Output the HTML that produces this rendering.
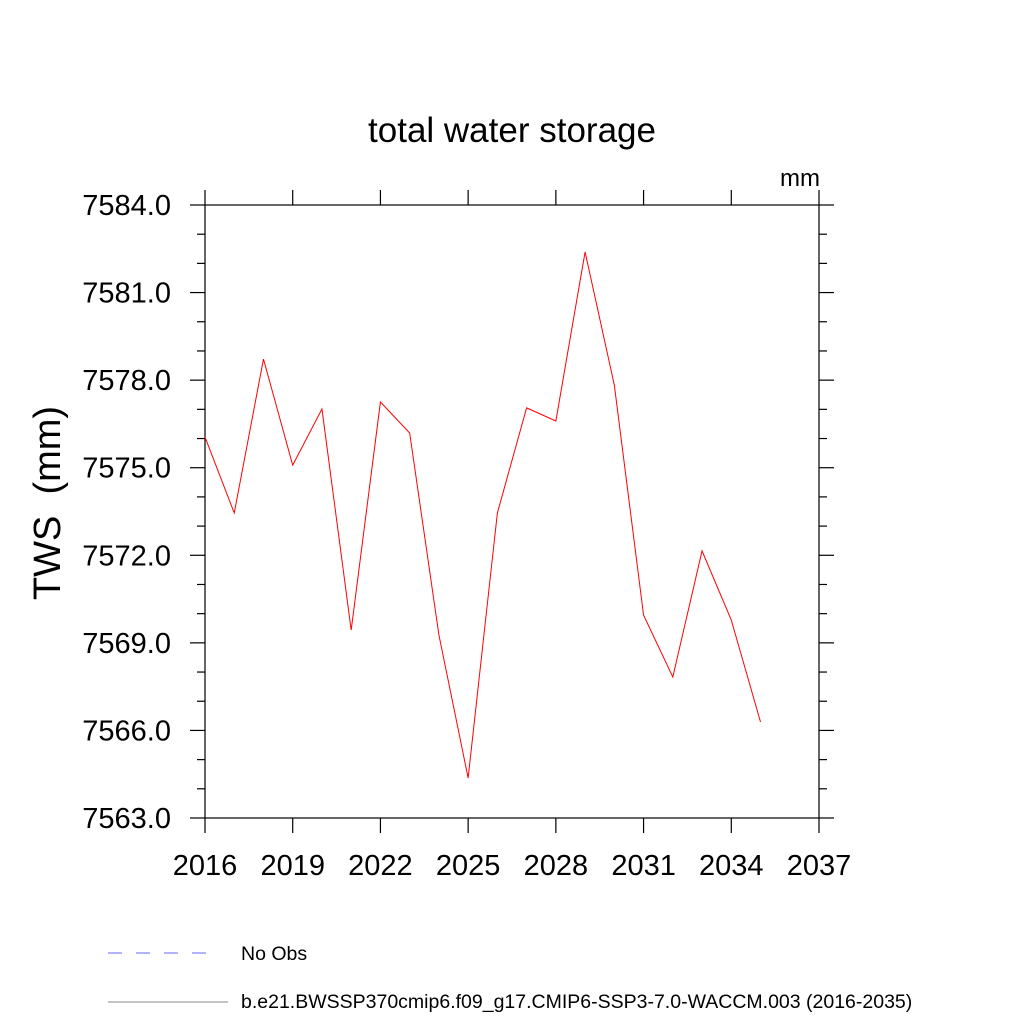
<!DOCTYPE html>
<html><head><meta charset="utf-8"><style>body{margin:0;background:#fff}</style></head>
<body>
<svg id="chart" width="1024" height="1024" xmlns="http://www.w3.org/2000/svg" font-family="Liberation Sans, sans-serif">
<rect width="1024" height="1024" fill="#fff"/>
<text x="512" y="142" font-size="35" text-anchor="middle">total water storage</text>
<text x="800" y="186" font-size="24" text-anchor="middle">mm</text>
<text transform="translate(60,503) rotate(-90)" font-size="38" text-anchor="middle">TWS&#160;&#160;(mm)</text>
<rect x="205" y="205" width="614" height="613" fill="none" stroke="#000" stroke-width="1.2"/>
<g id="ticks"></g>
<polyline id="series" fill="none" stroke="#ff0000" stroke-width="1"/>
<line x1="108" y1="953" x2="218" y2="953" stroke="#6666ff" stroke-width="1" stroke-dasharray="14,14"/>
<text x="241" y="960" font-size="19.5">No Obs</text>
<line x1="108" y1="1002" x2="228" y2="1002" stroke="#888" stroke-width="1"/>
<text x="241" y="1008" font-size="19.5">b.e21.BWSSP370cmip6.f09_g17.CMIP6-SSP3-7.0-WACCM.003 (2016-2035)</text>
</svg>
<script>
const years=[2016,2017,2018,2019,2020,2021,2022,2023,2024,2025,2026,2027,2028,2029,2030,2031,2032,2033,2034,2035];
const tws=[7576.05,7573.45,7578.72,7575.09,7577.01,7569.44,7577.25,7576.19,7569.27,7564.37,7573.45,7577.05,7576.6,7582.39,7577.83,7569.95,7567.83,7572.15,7569.78,7566.29];
const xTicks=[2016,2019,2022,2025,2028,2031,2034,2037];
const yTicks=[7563,7566,7569,7572,7575,7578,7581,7584];
const X0=205,X1=819,Y0=818,Y1=205;
const xs=v=>X0+(v-2016)/(2037-2016)*(X1-X0);
const ys=v=>Y0-(v-7563)/(7584-7563)*(Y0-Y1);
const NS='http://www.w3.org/2000/svg';
const g=document.getElementById('ticks');
function ln(x1,y1,x2,y2){const l=document.createElementNS(NS,'line');l.setAttribute('x1',x1);l.setAttribute('y1',y1);l.setAttribute('x2',x2);l.setAttribute('y2',y2);l.setAttribute('stroke','#000');l.setAttribute('stroke-width','1.2');


g.appendChild(l);}
function tx(x,y,s,a){const t=document.createElementNS(NS,'text');t.setAttribute('x',x);t.setAttribute('y',y);t.setAttribute('font-size','29');t.setAttribute('text-anchor',a);t.textContent=s;


g.appendChild(t);}
xTicks.forEach(v=>{const x=xs(v);ln(x,Y0,x,Y0+15);ln(x,Y1,x,Y1-15);tx(x,Y0+57,String(v),'middle');});
for(let v=7563;v<=7584;v++){const y=ys(v);const major=yTicks.includes(v);const L=major?15:8;ln(X0,y,X0-L,y);ln(X1,y,X1+L,y);if(major)tx(X0-34,y+10,v.toFixed(1),'end');}
document.getElementById('series').setAttribute('points',years.map((y,i)=>xs(y)+','+ys(tws[i])).join(' '));
</script>
</body></html>
